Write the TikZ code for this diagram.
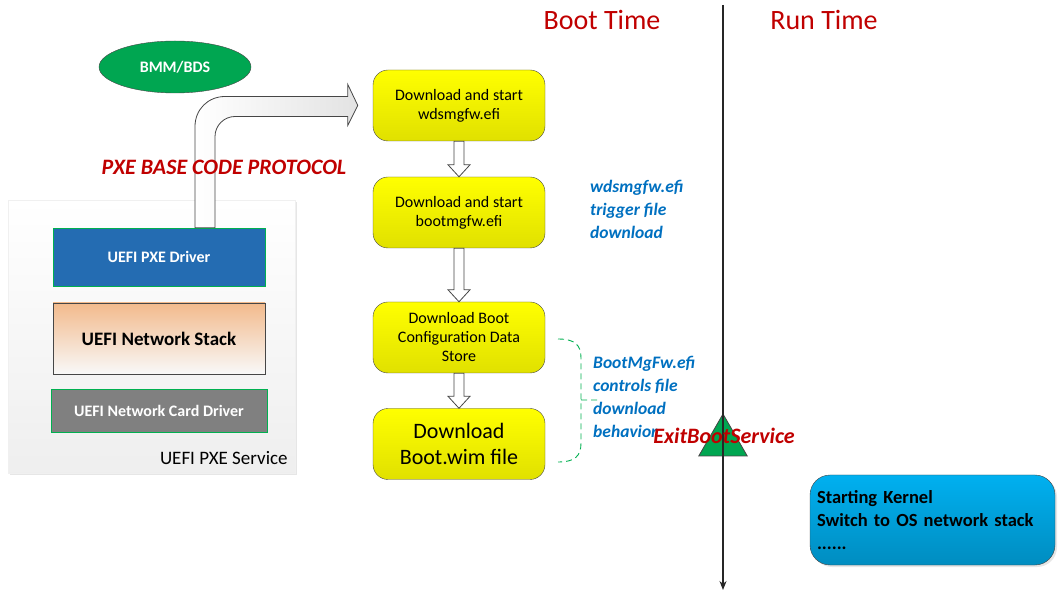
\documentclass[tikz,border=0pt]{standalone}
\usepackage{fontspec}
\setmainfont{Carlito}
\usetikzlibrary{calc,shapes.geometric,arrows.meta,shadows}

\definecolor{bootred}{RGB}{192,0,0}
\definecolor{noteblue}{RGB}{0,112,192}
\definecolor{boxgreen}{RGB}{0,176,80}
\definecolor{ovalgreen}{RGB}{0,166,81}
\definecolor{pxeblue}{RGB}{36,108,178}
\definecolor{stackorange}{RGB}{242,186,140}
\definecolor{kernelblue}{RGB}{0,176,240}
\definecolor{edgegray}{RGB}{70,70,70}

\begin{document}
\begin{tikzpicture}[x=1pt, y=-1pt,
  stepbox/.style={shape=rectangle, rounded corners=15, draw=edgegray, top color=yellow, bottom color=yellow!88!black,
    minimum width=172, minimum height=71, align=center, inner sep=0, font=\fontsize{16}{19}\selectfont},
  layerbox/.style={shape=rectangle, minimum width=212, align=center, inner sep=0},
  note/.style={anchor=north west, align=left, inner sep=0, text=noteblue, font=\fontsize{17.5}{23}\selectfont\bfseries\itshape},
  heading/.style={text=bootred, font=\fontsize{28}{32}\selectfont},
  blockdown/.style={draw=edgegray, fill=white, line width=0.8,
    to path={($(\tikztostart.south)+(-5,0)$) -- ($(\tikztotarget.north)+(-5,-12)$) -- ($(\tikztotarget.north)+(-11,-12)$)
      -- (\tikztotarget.north) -- ($(\tikztotarget.north)+(11,-12)$) -- ($(\tikztotarget.north)+(5,-12)$)
      -- ($(\tikztostart.south)+(5,0)$) -- cycle}}
]
\useasboundingbox (0,0) rectangle (1058,593);

% left side: the PXE service stack
\node (PXE Service) at (151.5,336.5) [shape=rectangle, minimum width=287, minimum height=273, inner sep=0,
  top color=white, bottom color=gray!13, draw=gray!12, drop shadow={opacity=0.2, shadow xshift=2pt, shadow yshift=-2pt}] {};
\node (Service Label) at ($(PXE Service.south east)+(-4,-15)$) [anchor=east, font=\fontsize{19}{22}\selectfont] {UEFI PXE Service};

\node (PXE Driver) at (159,257) [layerbox, minimum height=58, fill=pxeblue, draw=boxgreen, text=white,
  font=\fontsize{16}{19}\selectfont\bfseries] {UEFI PXE Driver};

\node (Network Stack) at (159,338.5) [layerbox, minimum height=71, top color=stackorange, bottom color=gray!5, draw=edgegray,
  line width=0.8, font=\fontsize{19}{22}\selectfont\bfseries] {UEFI Network Stack};

\node (Card Driver) at (159,410.5) [layerbox, minimum width=216, minimum height=43, fill=gray, draw=boxgreen, text=white,
  font=\fontsize{16}{19}\selectfont\bfseries] {UEFI Network Card Driver};

\node (BMM) at (175,67) [shape=ellipse, minimum width=152, minimum height=52, fill=ovalgreen, draw=edgegray, text=white,
  font=\fontsize{16}{19}\selectfont\bfseries] {BMM/BDS};

% boot steps
\node (wdsmgfw) at (459,105.5) [stepbox] {Download and start\\wdsmgfw.efi};
\node (bootmgfw) at (459,212.5) [stepbox] {Download and start\\bootmgfw.efi};
\node (BCD Store) at (459,337.5) [stepbox] {Download Boot\\Configuration Data\\Store};
\node (Boot wim) at (459,444) [stepbox, font=\fontsize{22}{26}\selectfont] {Download\\Boot.wim file};

\path (wdsmgfw) edge[blockdown] (bootmgfw)
  (bootmgfw) edge[blockdown] (BCD Store)
  (BCD Store) edge[blockdown] (Boot wim);

% bent arrow from the driver to the first step
\coordinate (src) at ($(PXE Driver.north)+(46,0)$);
\coordinate (dst) at ($(wdsmgfw.west)+(-15,0)$);
\coordinate (knee) at (src |- dst);
\draw [draw=edgegray, line width=0.8, left color=white, right color=gray!22]
  ($(src)+(-10,0)$) -- ($(knee)+(-10,21)$) .. controls ($(knee)+(-10,4)$) and ($(knee)+(3,-9)$) .. ($(knee)+(20,-9)$)
  -- ($(dst)+(-10,-9)$) -- ($(dst)+(-10,-21)$) -- (dst) -- ($(dst)+(-10,20)$) -- ($(dst)+(-10,11)$)
  -- ($(knee)+(30,11)$) .. controls ($(knee)+(19,11)$) and ($(knee)+(10,20)$) .. ($(knee)+(10,31)$)
  -- ($(src)+(10,0)$) -- cycle;

\node (Protocol) at (224,167) [text=bootred, font=\fontsize{22}{25}\selectfont\bfseries\itshape] {PXE BASE CODE PROTOCOL};

% notes
\node (Note Trigger) at (590,180) [note] {wdsmgfw.efi\\trigger file\\download};
\node (Note Controls) at (593,356) [note] {BootMgFw.efi\\controls file\\download\\behavior};

\draw [boxgreen, dash pattern=on 6pt off 4pt, line width=0.9] (558,339) .. controls (575,339) and (581,345) .. (581,358) -- (581,443)
  .. controls (581,456) and (575,462) .. (558,462)
  (581,400) -- (600,400);

% time line
\node (Boot Time) at (602,20) [heading] {Boot Time};
\node (Run Time) at (824,20) [heading] {Run Time};

\node (Exit Mark) at (723,442) [shape=regular polygon, regular polygon sides=3, minimum size=56, inner sep=0,
  fill=ovalgreen, draw=edgegray, line width=0.8] {};

\coordinate (Time Top) at (723,5);
\coordinate (Time End) at (723,590);
\draw [-{Stealth[length=9, width=7]}, draw=gray!30!black, line width=1.2] (Time Top) -- (Time End);

\node (Exit Label) at (724,436) [text=bootred, font=\fontsize{22}{25}\selectfont\bfseries\itshape] {ExitBootService};

\node (Kernel) at (932.5,520) [shape=rectangle, rounded corners=20, minimum width=245, minimum height=90, inner sep=7,
  text width=231, align=left, top color=kernelblue, bottom color=kernelblue!80!black, draw=edgegray,
  drop shadow={opacity=0.2, shadow xshift=2pt, shadow yshift=-2pt},
  font=\fontsize{18.5}{23}\selectfont\bfseries] {Starting Kernel\\Switch to OS network stack\\......};
\end{tikzpicture}
\end{document}
